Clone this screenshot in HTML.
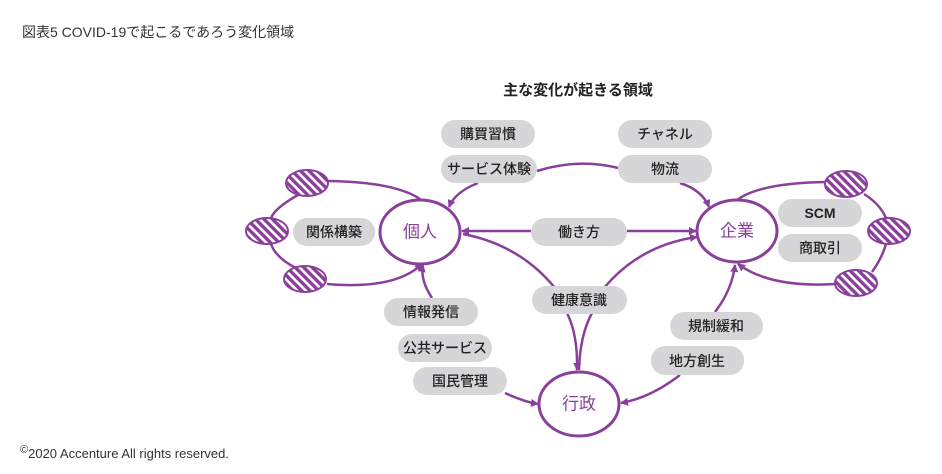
<!DOCTYPE html>
<html><head><meta charset="utf-8"><style>
body{margin:0;background:#fff;}
svg{display:block;font-family:"Liberation Sans","Noto Sans CJK JP",sans-serif;}
.p{fill:#d6d6d8;}
.t{font-size:14px;fill:#222;text-anchor:middle;dominant-baseline:central;font-weight:500;}
.l{fill:none;stroke:#8a3f9a;stroke-width:2.5;}
.c{fill:#fff;stroke:#8a3f9a;stroke-width:3;}
.ct{font-size:17px;fill:#8a3f9a;text-anchor:middle;dominant-baseline:central;}
.h{fill:url(#hatch);stroke:#8a3f9a;stroke-width:2;}
</style></head><body>
<svg width="942" height="474" viewBox="0 0 942 474">
<defs>
<pattern id="hatch" width="6" height="6" patternUnits="userSpaceOnUse" patternTransform="rotate(-45)">
<rect width="6" height="6" fill="#fff"/><rect width="3.4" height="6" fill="#8a3f9a"/>
</pattern>
<marker id="a" markerWidth="8" markerHeight="8" refX="7" refY="4" orient="auto" markerUnits="userSpaceOnUse">
<path d="M0,0 L8,4 L0,8 Z" fill="#8a3f9a"/></marker>
</defs>
<text x="22" y="37" font-size="14" fill="#333">図表5  COVID-19で起こるであろう変化領域</text>
<text x="578" y="95" font-size="15" font-weight="bold" fill="#222" text-anchor="middle">主な変化が起きる領域</text>
<text x="20" y="458" font-size="13" fill="#333"><tspan font-size="11" dy="-5">©</tspan><tspan dy="5">2020 Accenture All rights reserved.</tspan></text>

<path class="l" d="M328,181 Q395,182 420,199"/>
<path class="l" d="M327,284 Q395,290 422,264" marker-end="url(#a)"/>
<path class="l" d="M298,195 Q275,208 271,218"/>
<path class="l" d="M271,244 Q276,258 296,268"/>
<path class="l" d="M737,200 Q760,183 826,182"/>
<path class="l" d="M836,284 Q770,288 738,264" marker-end="url(#a)"/>
<path class="l" d="M864,194 Q880,204 886,218"/>
<path class="l" d="M886,244 Q882,258 872,272"/>

<path class="l" d="M537,171 Q578,158 618,168"/>
<path class="l" d="M478,183 Q455,192 449,207" marker-end="url(#a)"/>
<path class="l" d="M680,183 Q702,190 709,207" marker-end="url(#a)"/>
<path class="l" d="M531,231 L462,231" marker-end="url(#a)"/>
<path class="l" d="M627,231 L696,231" marker-end="url(#a)"/>
<path class="l" d="M555,288 Q520,245 463,234"/>
<path class="l" d="M604,288 Q640,245 697,237" marker-end="url(#a)"/>
<path class="l" d="M567,313 Q578,335 577,370" marker-end="url(#a)"/>
<path class="l" d="M592,313 Q580,335 579,370"/>
<path class="l" d="M432,298 Q420,280 423,265" marker-end="url(#a)"/>
<path class="l" d="M505,393 Q525,402 538,404" marker-end="url(#a)"/>
<path class="l" d="M715,312 Q732,290 735,265" marker-end="url(#a)"/>
<path class="l" d="M680,375 Q650,398 621,403" marker-end="url(#a)"/>

<ellipse class="h" cx="307" cy="183" rx="21" ry="13"/>
<ellipse class="h" cx="267" cy="231" rx="21" ry="13"/>
<ellipse class="h" cx="305" cy="279" rx="21" ry="13"/>
<ellipse class="h" cx="846" cy="184" rx="21" ry="13"/>
<ellipse class="h" cx="889" cy="231" rx="21" ry="13"/>
<ellipse class="h" cx="856" cy="283" rx="21" ry="13"/>

<ellipse class="c" cx="420" cy="232" rx="40" ry="32"/><text class="ct" x="420" y="232">個人</text>
<ellipse class="c" cx="737" cy="231" rx="40" ry="31"/><text class="ct" x="737" y="231">企業</text>
<ellipse class="c" cx="579" cy="404" rx="40" ry="32"/><text class="ct" x="579" y="404">行政</text>

<rect class="p" x="441" y="120" width="94" height="28" rx="14"/><text class="t" x="488" y="134">購買習慣</text>
<rect class="p" x="441" y="155" width="96" height="28" rx="14"/><text class="t" x="489" y="169">サービス体験</text>
<rect class="p" x="618" y="120" width="94" height="28" rx="14"/><text class="t" x="665" y="134">チャネル</text>
<rect class="p" x="618" y="155" width="94" height="28" rx="14"/><text class="t" x="665" y="169">物流</text>
<rect class="p" x="293" y="218" width="82" height="28" rx="14"/><text class="t" x="334" y="232">関係構築</text>
<rect class="p" x="531" y="218" width="96" height="28" rx="14"/><text class="t" x="579" y="232">働き方</text>
<rect class="p" x="778" y="199" width="84" height="28" rx="14"/><text class="t" x="820" y="213" style="font-weight:bold">SCM</text>
<rect class="p" x="778" y="234" width="84" height="28" rx="14"/><text class="t" x="820" y="248">商取引</text>
<rect class="p" x="532" y="286" width="95" height="28" rx="14"/><text class="t" x="579" y="300">健康意識</text>
<rect class="p" x="384" y="298" width="94" height="28" rx="14"/><text class="t" x="431" y="312">情報発信</text>
<rect class="p" x="398" y="334" width="94" height="28" rx="14"/><text class="t" x="445" y="348">公共サービス</text>
<rect class="p" x="413" y="367" width="94" height="28" rx="14"/><text class="t" x="460" y="381">国民管理</text>
<rect class="p" x="670" y="312" width="93" height="28" rx="14"/><text class="t" x="716" y="326">規制緩和</text>
<rect class="p" x="651" y="346" width="93" height="29" rx="14"/><text class="t" x="697" y="361">地方創生</text>
</svg>
</body></html>
